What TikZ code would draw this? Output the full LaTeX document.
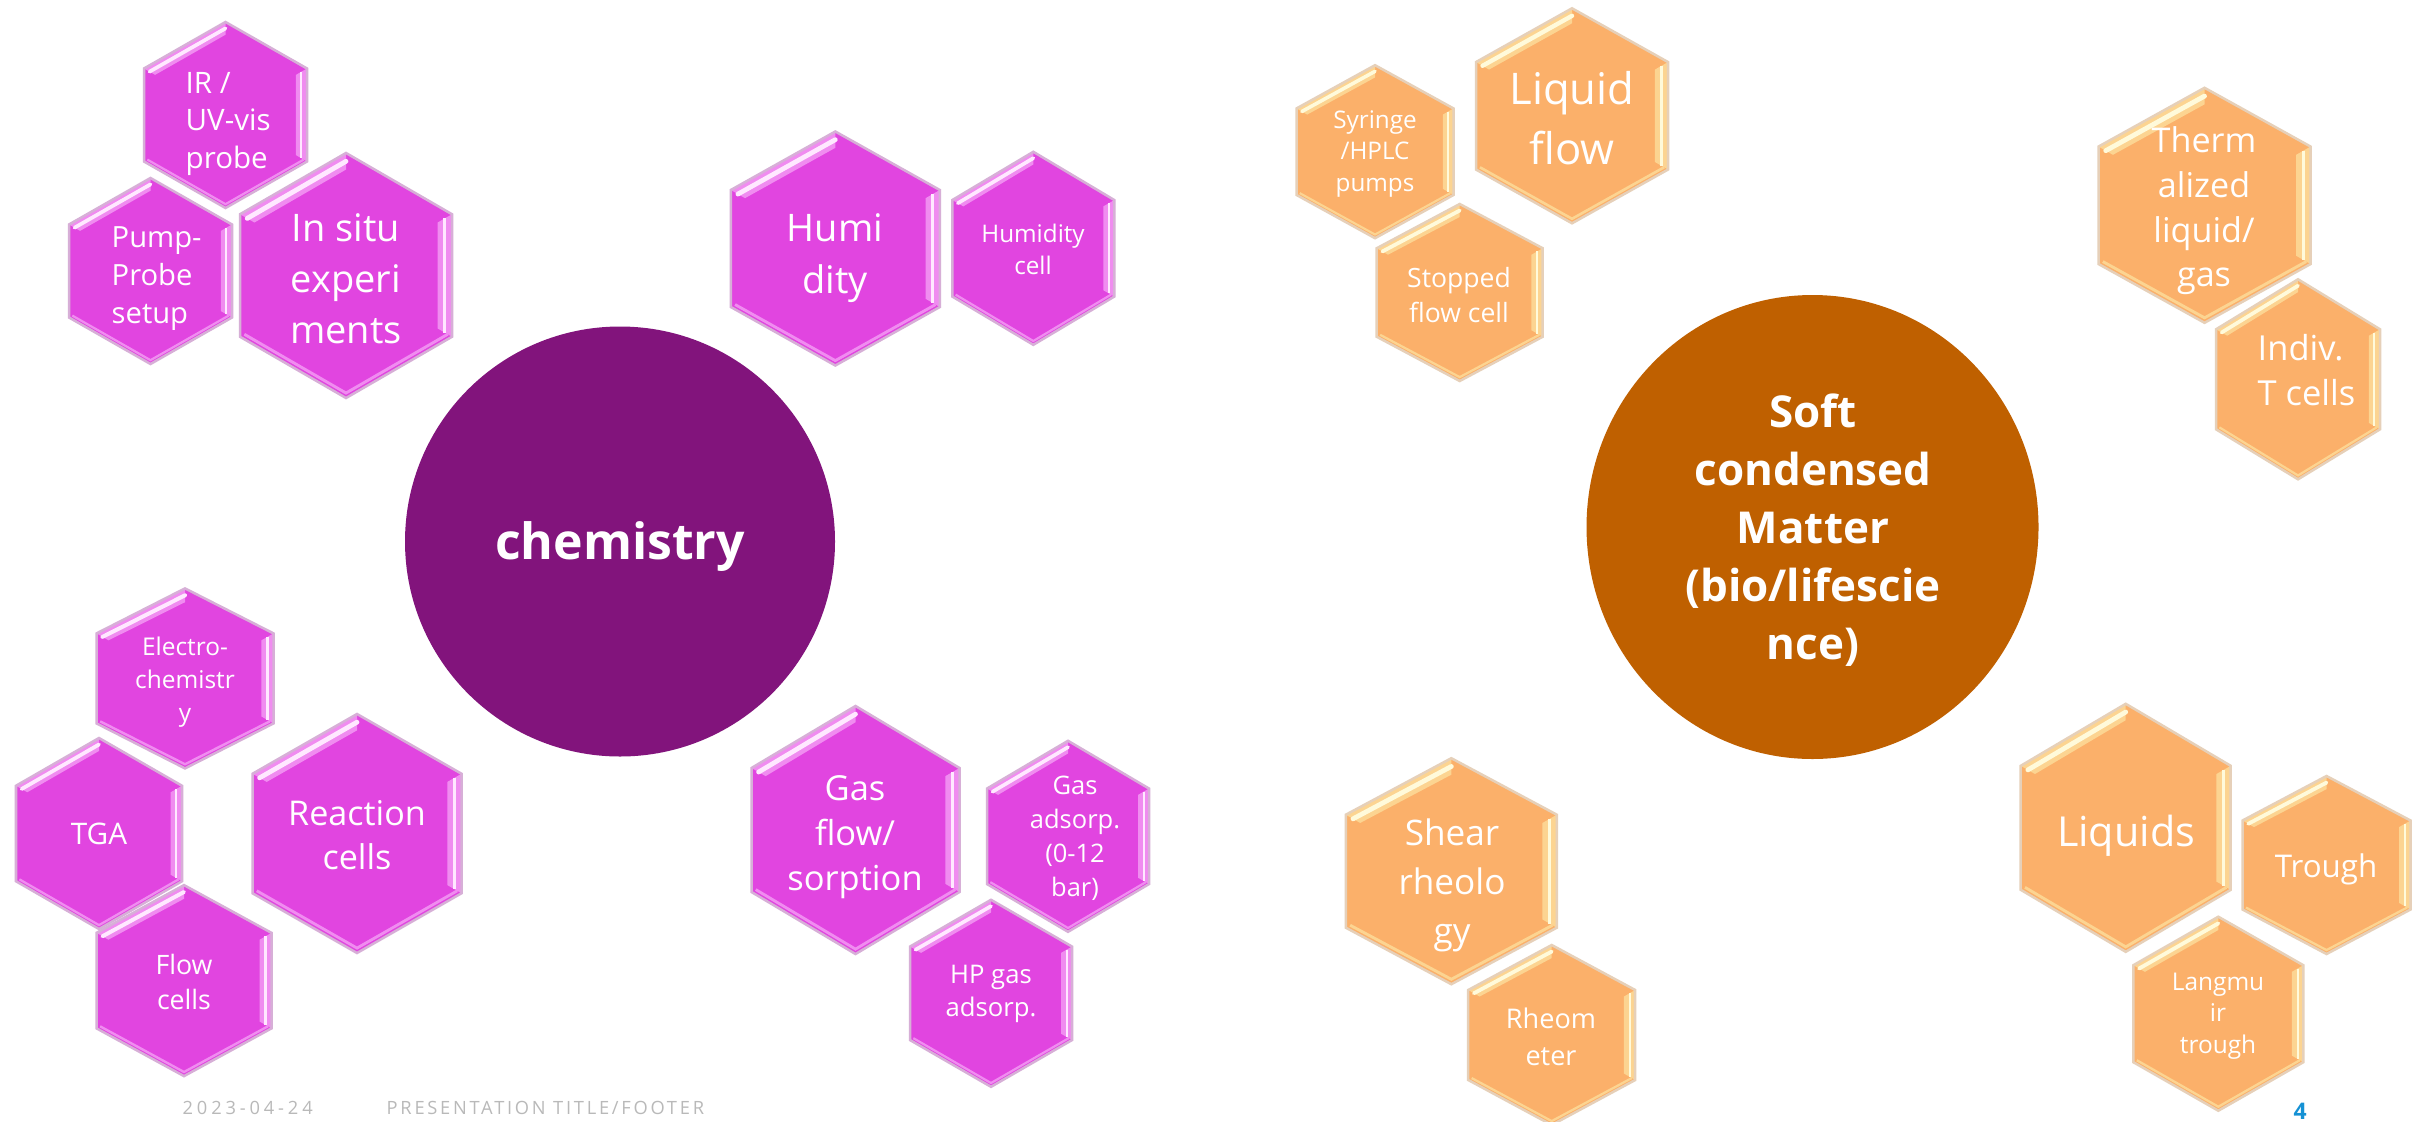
\documentclass[tikz,border=0pt]{standalone}
\usepackage{fontspec}
\setmainfont{Open Sans}
\definecolor{mag}{RGB}{225,69,224}
\definecolor{magL}{RGB}{240,140,240}
\definecolor{magH}{RGB}{255,232,255}
\definecolor{magO}{RGB}{215,175,215}
\definecolor{ora}{RGB}{251,176,106}
\definecolor{oraL}{RGB}{252,212,145}
\definecolor{oraH}{RGB}{255,250,218}
\definecolor{oraO}{RGB}{230,208,185}
\definecolor{chem}{RGB}{130,20,124}
\definecolor{soft}{RGB}{191,96,0}
\definecolor{footgray}{RGB}{185,185,185}
\definecolor{pgblue}{RGB}{21,145,212}
\newcommand\fsz[2]{\fontsize{#1pt}{#2pt}\selectfont}
% hexagon: cx, cy, w, h, colour prefix
\newcommand\hexa[5]{%
\begin{scope}[shift={(#1,#2)}]
\pgfmathsetmacro\hw{#3/2}
\pgfmathsetmacro\hh{#4/2}
\pgfmathsetmacro\hq{#4/4}
\pgfmathsetmacro\bb{0.068*#3}
\pgfmathsetmacro\iw{\hw-\bb}
\pgfmathsetmacro\ih{\hh-1.15*\bb}
\pgfmathsetmacro\iq{\hq*\ih/\hh}
\pgfmathsetmacro\mw{\hw-0.5*\bb}
\pgfmathsetmacro\mh{\hh-0.575*\bb}
\pgfmathsetmacro\mq{(\hq+\iq)/2}
\pgfmathsetmacro\dw{\hw-0.3*\bb}
\pgfmathsetmacro\dh{\hh-0.345*\bb}
\pgfmathsetmacro\dq{\hq-0.3*(\hq-\iq)}
\pgfmathsetmacro\lw{\bb/300}
\fill[#5] (0,-\hh) -- (\hw,-\hq) -- (\hw,\hq) -- (0,\hh) -- (-\hw,\hq) -- (-\hw,-\hq) -- cycle;
\fill[#5L] (-\hw,-\hq) -- (0,-\hh) -- (0,-\ih) -- (-\iw,-\iq) -- cycle;
\draw[#5H, line width=\lw cm, line cap=round] (-\mw,-\mq) -- (0,-\mh);
\fill[#5L] (\hw,-\hq) -- (\hw,\hq) -- (\iw,\iq) -- (\iw,-\iq) -- cycle;
\draw[#5H, line width=0.55*\lw cm] (\mw,-\mq) -- (\mw,\mq);
\draw[#5L, line width=0.6*\lw cm] (\dw,\dq) -- (0,\dh) -- (-\dw,\dq);
\draw[#5O, line width=0.025cm] (0,-\hh) -- (\hw,-\hq) -- (\hw,\hq) -- (0,\hh) -- (-\hw,\hq) -- (-\hw,-\hq) -- cycle;
\end{scope}}
\tikzset{
  htext/.style={text=white, align=center, inner sep=0pt},
  ltext/.style={text=white, align=left, inner sep=0pt, anchor=west},
  hub/.style={text=white, align=center, inner sep=0pt, font=\bfseries},
  footer/.style={text=footgray, inner sep=0pt, anchor=west}
}
\begin{document}
\begin{tikzpicture}[x=0.01cm, y=-0.01cm]
\useasboundingbox (0,0) rectangle (2419,1121);
\fill[white] (0,0) rectangle (2419,1121);
% hubs
\fill[chem] (620,541.5) circle (215);
\fill[soft] (1812.5,527) ellipse (226 and 232);
\node[hub, font=\bfseries\fsz{14.2}{17}] (chem) at (620,547) {chemistry};
\node[hub, font=\bfseries\fsz{12.5}{16.5}] (soft) at (1813,530) {Soft\\condensed\\Matter\\(bio/lifescie\\nce)};
% chemistry hexagons
\hexa{225.5}{115}{163}{186}{mag}
\hexa{150.5}{271}{163}{186}{mag}
\hexa{346}{275.5}{212}{245}{mag}
\hexa{835.3}{248.5}{209}{234}{mag}
\hexa{1033.3}{248.3}{162}{193}{mag}
\hexa{185}{678.4}{177}{180}{mag}
\hexa{99}{833.5}{166}{191}{mag}
\hexa{184}{980.6}{175}{191}{mag}
\hexa{357}{833.5}{209}{239}{mag}
\hexa{855.5}{830}{208}{248}{mag}
\hexa{1068}{836.3}{162}{191}{mag}
\hexa{991}{993.3}{162}{187}{mag}
% soft matter hexagons
\hexa{1375}{151.7}{157}{173}{ora}
\hexa{1572}{115.8}{192}{215}{ora}
\hexa{1459.7}{292.5}{166}{177}{ora}
\hexa{2298}{379.3}{164}{200}{ora}
\hexa{2204.5}{205.3}{212}{235}{ora}
\hexa{1451.3}{871.2}{211}{226}{ora}
\hexa{1551.7}{1035}{167}{180}{ora}
\hexa{2125.7}{827.8}{210}{248}{ora}
\hexa{2326.5}{865}{168}{178}{ora}
\hexa{2218.3}{1013.7}{170}{194}{ora}
% texts
\node[ltext, font=\fsz{8.4}{10.8}] (ir) at (185,124) {IR /\\UV-vis\\probe};
\node[ltext, font=\fsz{8.3}{10.8}] (pump) at (111,279) {Pump-\\Probe\\setup};
\node[htext, font=\fsz{10.8}{14.5}] (insitu) at (346,279) {In situ\\experi\\ments};
\node[htext, font=\fsz{10.8}{14.8}] (hum) at (835,258) {Humi\\dity};
\node[htext, font=\fsz{6.9}{9.1}] (humcell) at (1033,249) {Humidity\\cell};
\node[htext, font=\fsz{6.95}{9.4}] (electro) at (185,682) {Electro-\\chemistr\\y};
\node[htext, font=\fsz{8.45}{10}] (tga) at (99,834) {TGA};
\node[htext, font=\fsz{9.7}{12.5}] (react) at (357,835) {Reaction\\cells};
\node[htext, font=\fsz{7.6}{10}] (flow) at (184,982) {Flow\\cells};
\node[htext, font=\fsz{9.8}{12.8}] (gasflow) at (855,837) {Gas\\flow/\\sorption};
\node[htext, font=\fsz{7.25}{9.7}] (gasads) at (1075,838) {Gas\\adsorp.\\(0-12\\bar)};
\node[htext, font=\fsz{7.3}{9.4}] (hpgas) at (991,994) {HP gas\\adsorp.};
\node[htext, font=\fsz{6.9}{9}] (syringe) at (1375,154) {Syringe\\/HPLC\\pumps};
\node[htext, font=\fsz{12.4}{17.1}] (liqflow) at (1572,118) {Liquid\\flow};
\node[htext, font=\fsz{7.55}{10}] (stopped) at (1459,295) {Stopped\\flow cell};
\node[htext, font=\fsz{9.7}{12.7}] (therm) at (2204,211) {Therm\\alized\\liquid/\\gas};
\node[ltext, font=\fsz{9.8}{12.8}] (indiv) at (2257,370) {Indiv.\\T cells};
\node[htext, font=\fsz{10}{13.9}] (shear) at (1452,885) {Shear\\rheolo\\gy};
\node[htext, font=\fsz{7.7}{10.4}] (rheo) at (1551,1037) {Rheom\\eter};
\node[htext, font=\fsz{11.75}{14}] (liquids) at (2126,836) {Liquids};
\node[htext, font=\fsz{8.9}{11}] (trough) at (2326,869) {Trough};
\node[htext, font=\fsz{6.95}{9}] (langmuir) at (2218,1016) {Langmu\\ir\\trough};
% footer
\node[footer, font=\fsz{5.2}{6.5}\addfontfeatures{LetterSpace=21}] (date) at (182,1108) {2023-04-24};
\node[footer, font=\fsz{5.2}{6.5}\addfontfeatures{LetterSpace=15}] (title) at (386,1108) {PRESENTATION TITLE/FOOTER};
\node[text=pgblue, inner sep=0pt, font=\bfseries\fsz{6.5}{7.5}] (page) at (2300,1111) {4};
\end{tikzpicture}
\end{document}
